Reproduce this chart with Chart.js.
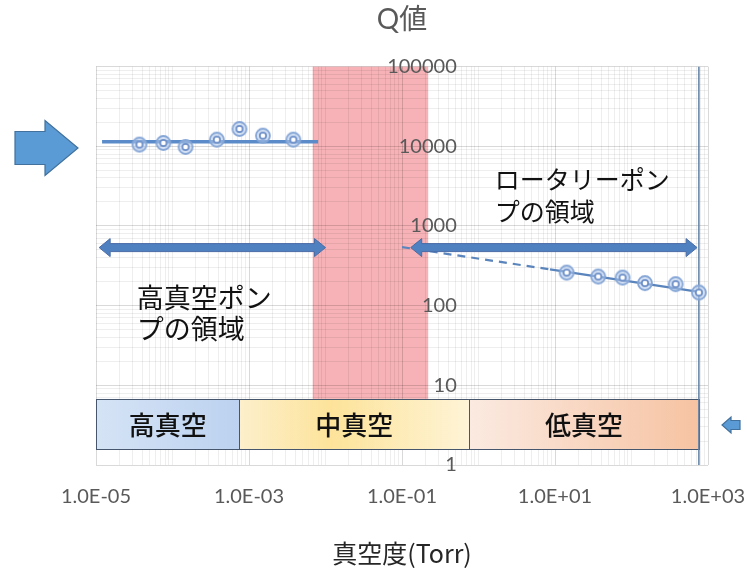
<!DOCTYPE html>
<html lang="ja">
<head>
<meta charset="utf-8">
<title>Q値</title>
<script src="https://cdn.jsdelivr.net/npm/chart.js@4.4.1/dist/chart.umd.min.js"></script>
<style>
  html, body { margin: 0; padding: 0; background: #fff; }
  #wrap { width: 747px; height: 568px; }
</style>
</head>
<body>
<div id="wrap"><canvas id="q-chart"></canvas></div>
<script>
// values (x: Torr, y: Q)
const highVacX = [3.7e-5, 7.6e-5, 1.48e-4, 3.8e-4, 7.5e-4, 1.52e-3, 3.8e-3];
const highVacQ = [10500, 11000, 9800, 12100, 16500, 13600, 12100];
const highVacFitX = [1.2e-5, 8e-3];
const highVacFitQ = [11400, 11400];

const rotaryX = [14.2, 36.7, 76.5, 150, 378, 760];
const rotaryQ = [260, 232, 225, 192, 186, 146];
const rotaryFitX = [8.6, 760];
const rotaryFitQ = [285, 149];
const rotaryExtX = [0.1, 8.6];
const rotaryExtQ = [543, 285];

const atmX = [760, 760];
const atmQ = [1, 100000];

// vacuum ranges (bottom strip) and the pink band
const rangeNames = ["高真空", "中真空", "低真空"];
const rangeEdges = [1e-5, 7.5e-4, 0.75, 760];
const stripQ = [1.59, 6.75];
const midBand = [6.8e-3, 0.22];

// pump range arrows
const pumpArrowX = [[1.1e-5, 1e-2], [0.13, 720]];
const pumpArrowQ = 535;

const xTickValues = [1e-5, 1e-3, 1e-1, 1e1, 1e3];
const xTickLabels = ["1.0E-05", "1.0E-03", "1.0E-01", "1.0E+01", "1.0E+03"];
const yTickValues = [1, 10, 100, 1000, 10000, 100000];
const yTickLabels = ["1", "10", "100", "1000", "10000", "100000"];

const pts = (xs, ys) => xs.map((x, i) => ({ x: x, y: ys[i] }));

function findTick(values, v) {
  return values.findIndex((t) => Math.abs(Math.log10(t) - Math.log10(v)) < 1e-6);
}

// 1..9 x 10^n between min and max, for the minor grid
function logTicks(min, max) {
  const out = [];
  const e0 = Math.round(Math.log10(min)), e1 = Math.round(Math.log10(max));
  for (let e = e0; e <= e1; e++) {
    for (let k = 1; k < 10; k++) {
      const v = k * Math.pow(10, e);
      if (v > max * 1.0001) break;
      out.push({ value: v });
    }
  }
  return out;
}

function ringMarker() {
  const c = document.createElement("canvas");
  c.width = 18;
  c.height = 18;
  const g = c.getContext("2d");
  g.beginPath();
  g.arc(9, 9, 7, 0, Math.PI * 2);
  g.fillStyle = "rgba(178,202,236,0.55)";
  g.fill();
  g.lineWidth = 1.8;
  g.strokeStyle = "#86A6D6";
  g.stroke();
  g.beginPath();
  g.arc(9, 9, 3.2, 0, Math.PI * 2);
  g.fillStyle = "#fff";
  g.fill();
  g.lineWidth = 1.7;
  g.strokeStyle = "#6E8FC7";
  g.stroke();
  return c;
}
const marker = ringMarker();

function doubleArrow(ctx, x1, x2, yc) {
  const half = 4, headH = 9, headL = 11;
  ctx.beginPath();
  ctx.moveTo(x1, yc);
  ctx.lineTo(x1 + headL, yc - headH);
  ctx.lineTo(x1 + headL, yc - half);
  ctx.lineTo(x2 - headL, yc - half);
  ctx.lineTo(x2 - headL, yc - headH);
  ctx.lineTo(x2, yc);
  ctx.lineTo(x2 - headL, yc + headH);
  ctx.lineTo(x2 - headL, yc + half);
  ctx.lineTo(x1 + headL, yc + half);
  ctx.lineTo(x1 + headL, yc + headH);
  ctx.closePath();
  ctx.fillStyle = "#4F81C1";
  ctx.fill();
  ctx.lineWidth = 1;
  ctx.strokeStyle = "#4A6CA6";
  ctx.stroke();
}

// block arrow pointing right (dir 1) or left (dir -1), tip at (tx, ty)
function blockArrow(ctx, tx, ty, len, headL, bodyH, headH, dir) {
  const b = tx - dir * len, h = tx - dir * headL;
  ctx.beginPath();
  ctx.moveTo(b, ty - bodyH / 2);
  ctx.lineTo(h, ty - bodyH / 2);
  ctx.lineTo(h, ty - headH / 2);
  ctx.lineTo(tx, ty);
  ctx.lineTo(h, ty + headH / 2);
  ctx.lineTo(h, ty + bodyH / 2);
  ctx.lineTo(b, ty + bodyH / 2);
  ctx.closePath();
  ctx.fillStyle = "#5B9BD5";
  ctx.fill();
  ctx.lineWidth = 1.2;
  ctx.strokeStyle = "#41719C";
  ctx.stroke();
}

const decorations = {
  id: "decorations",
  beforeDraw(chart) {
    // pink band first, so the grid shows through it
    const { ctx, chartArea, scales: { x, y } } = chart;
    const l = x.getPixelForValue(midBand[0]), r = x.getPixelForValue(midBand[1]);
    const b = y.getPixelForValue(stripQ[1]);
    ctx.save();
    ctx.fillStyle = "#F6B2B7";
    ctx.fillRect(l, chartArea.top, r - l, b - chartArea.top);
    ctx.restore();
  },
  beforeDatasetsDraw(chart) {
    const { ctx, scales: { x, y } } = chart;
    const top = y.getPixelForValue(stripQ[1]), bot = y.getPixelForValue(stripQ[0]);
    const fills = [
      [[0, "#D5E3F5"], [1, "#BCD2F0"]],
      [[0, "#FCEFCB"], [0.4, "#FDE39A"], [1, "#FEF4D6"]],
      [[0, "#FBEAE1"], [1, "#F6C3A2"]],
    ];
    ctx.save();
    rangeNames.forEach((name, i) => {
      const l = x.getPixelForValue(rangeEdges[i]), r = x.getPixelForValue(rangeEdges[i + 1]);
      const grad = ctx.createLinearGradient(l, 0, r, 0);
      fills[i].forEach((s) => grad.addColorStop(s[0], s[1]));
      ctx.fillStyle = grad;
      ctx.fillRect(l, top, r - l, bot - top);
      ctx.lineWidth = 1;
      ctx.strokeStyle = "#46566C";
      ctx.strokeRect(Math.round(l) + 0.5, Math.round(top) + 0.5, Math.round(r - l), Math.round(bot - top));
      ctx.fillStyle = "#111";
      ctx.font = "500 26px 'Noto Sans CJK JP'";
      ctx.textAlign = "center";
      ctx.textBaseline = "middle";
      ctx.fillText(name, (l + r) / 2, (top + bot) / 2 + 1);
    });
    ctx.restore();
  },
  afterDatasetsDraw(chart) {
    const { ctx, scales: { x, y } } = chart;
    ctx.save();
    pumpArrowX.forEach((xr) => {
      doubleArrow(ctx, x.getPixelForValue(xr[0]), x.getPixelForValue(xr[1]), y.getPixelForValue(pumpArrowQ));
    });
    ctx.fillStyle = "#111";
    ctx.textAlign = "left";
    ctx.textBaseline = "middle";
    ctx.font = "25px 'Noto Sans CJK JP'";
    let px = x.getPixelForValue(1.63), py = y.getPixelForValue(3800);
    ctx.fillText("ロータリーポン", px, py);
    ctx.fillText("プの領域", px, py + 32);
    ctx.font = "27px 'Noto Sans CJK JP'";
    px = x.getPixelForValue(3.4e-5);
    py = y.getPixelForValue(127);
    ctx.fillText("高真空ポン", px, py);
    ctx.fillText("プの領域", px, py + 31);
    ctx.restore();
  },
  afterDraw(chart) {
    const { ctx, chartArea } = chart;
    ctx.save();
    // big arrow left of the plot, small one right of the strip
    blockArrow(ctx, chartArea.left - 18, 148, 63, 33, 33, 55, 1);
    blockArrow(ctx, chartArea.right + 14, 425, 18, 9, 9, 16, -1);
    ctx.restore();
  },
};

const tickColor = "#595959";
const latoFont = "Lato, 'Noto Sans CJK JP'";

new Chart(document.getElementById("q-chart"), {
  type: "scatter",
  data: {
    datasets: [
      {
        data: pts(highVacX, highVacQ),
        pointStyle: marker,
        pointRadius: 7,
      },
      {
        data: pts(rotaryX, rotaryQ),
        pointStyle: marker,
        pointRadius: 7,
      },
      {
        data: pts(highVacFitX, highVacFitQ),
        showLine: true,
        borderColor: "#5B8CC9",
        borderWidth: 3.5,
        pointRadius: 0,
      },
      {
        data: pts(rotaryFitX, rotaryFitQ),
        showLine: true,
        borderColor: "#5A84BC",
        borderWidth: 2.2,
        pointRadius: 0,
      },
      {
        data: pts(rotaryExtX, rotaryExtQ),
        showLine: true,
        borderColor: "#5A84BC",
        borderWidth: 2.2,
        borderDash: [8, 6],
        pointRadius: 0,
      },
      {
        data: pts(atmX, atmQ),
        showLine: true,
        borderColor: "#5F80A6",
        borderWidth: 1.5,
        pointRadius: 0,
      },
    ],
  },
  options: {
    responsive: true,
    maintainAspectRatio: false,
    animation: false,
    layout: {
      padding: { left: 96, right: 39, top: 0, bottom: 0 },
    },
    scales: {
      x: {
        type: "logarithmic",
        position: "bottom",
        min: 1e-5,
        max: 1000,
        afterBuildTicks: (scale) => {
          scale.ticks = logTicks(1e-5, 1000);
        },
        // the end labels fit inside the side padding already
        afterFit: (scale) => {
          scale.paddingLeft = 0;
          scale.paddingRight = 0;
        },
        ticks: {
          autoSkip: false,
          maxRotation: 0,
          padding: 20,
          color: tickColor,
          font: { family: latoFont, size: 20 },
          callback: (v) => {
            const i = findTick(xTickValues, v);
            return i < 0 ? "" : xTickLabels[i];
          },
        },
        grid: {
          drawTicks: false,
          color: (c) =>
            c.tick && findTick(xTickValues, c.tick.value) >= 0
              ? "rgba(0,0,0,0.15)"
              : "rgba(0,0,0,0.065)",
        },
        border: { display: false },
        title: {
          display: true,
          text: "真空度(Torr)",
          color: "#262626",
          font: { family: "'Noto Sans CJK JP'", size: 25 },
          padding: { top: 9, bottom: 0 },
        },
      },
      y: {
        type: "logarithmic",
        position: { x: 0.52 },
        min: 1,
        max: 100000,
        afterBuildTicks: (scale) => {
          scale.ticks = logTicks(1, 100000);
        },
        ticks: {
          autoSkip: false,
          padding: 0,
          color: tickColor,
          font: { family: latoFont, size: 20 },
          callback: (v) => {
            const i = findTick(yTickValues, v);
            return i < 0 ? "" : yTickLabels[i];
          },
        },
        grid: {
          drawTicks: false,
          color: (c) =>
            c.tick && findTick(yTickValues, c.tick.value) >= 0
              ? "rgba(0,0,0,0.15)"
              : "rgba(0,0,0,0.065)",
        },
        border: { display: false },
      },
    },
    plugins: {
      legend: { display: false },
      tooltip: { enabled: false },
      title: {
        display: true,
        text: "Q値",
        fullSize: false,
        color: tickColor,
        font: { family: latoFont, size: 28, weight: "normal" },
        padding: { top: 3, bottom: 30 },
      },
    },
  },
  plugins: [decorations],
});
</script>
</body>
</html>
